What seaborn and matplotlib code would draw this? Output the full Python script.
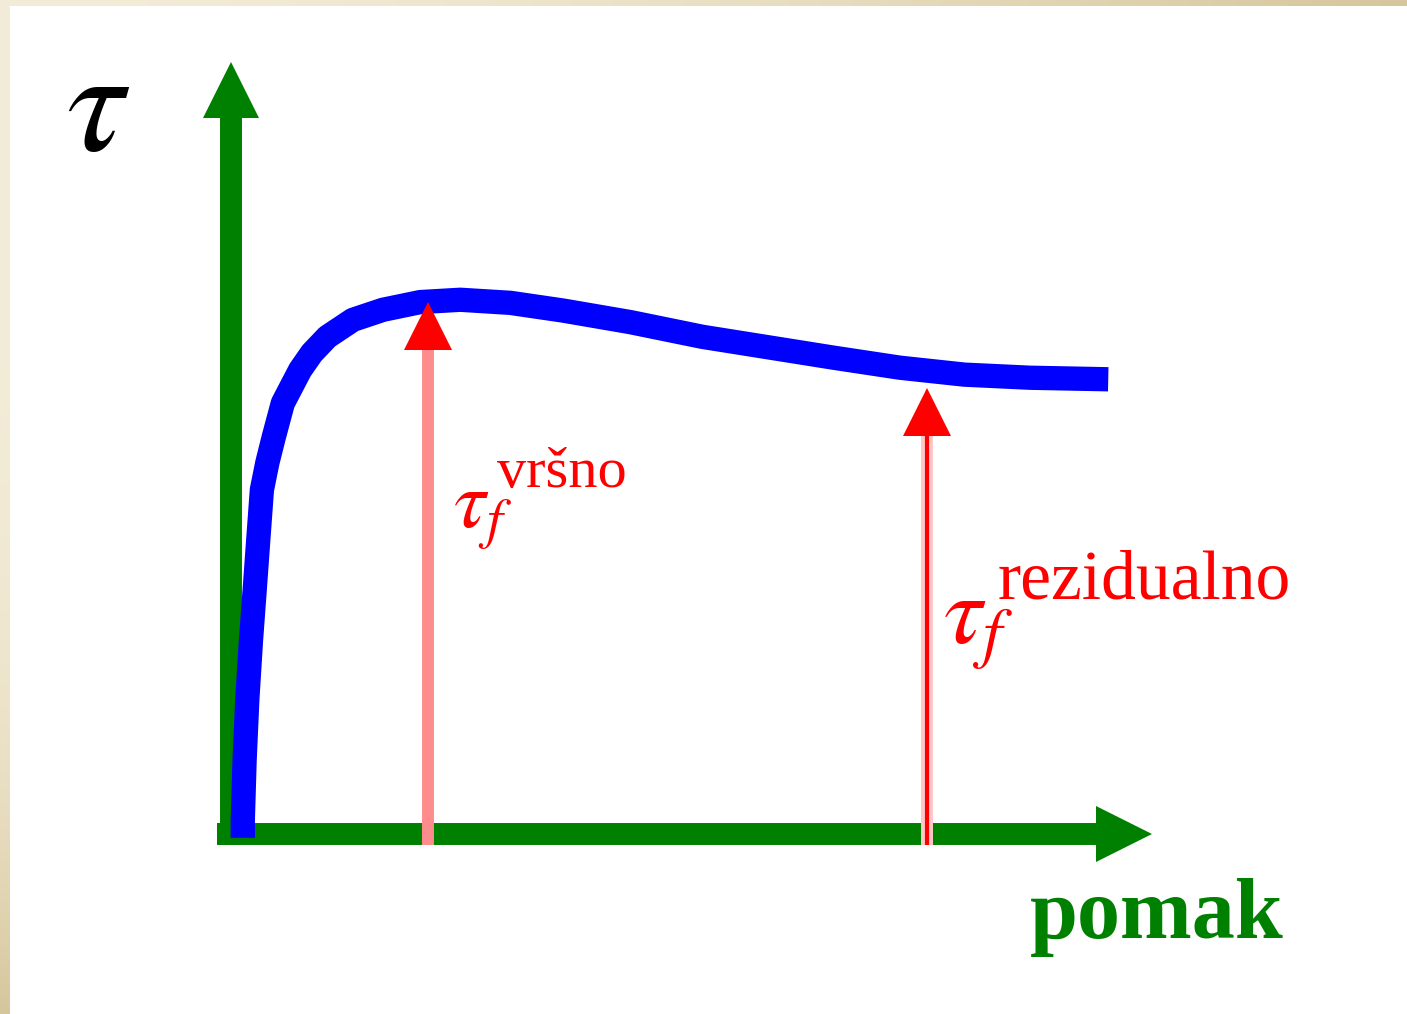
import numpy as np
import matplotlib
matplotlib.use("Agg")
import matplotlib.pyplot as plt
import seaborn as sns
from matplotlib.patches import Rectangle
from matplotlib.transforms import ScaledTranslation

# Shear stress vs. displacement (arbitrary units)
pomak = [1.3, 1.3, 1.5, 1.8, 2.2, 2.6, 3.0, 3.4, 4.0, 4.7, 5.7, 7.6, 8.9,
         10.6, 13.4, 16.7, 20.8, 25.2, 30.7, 36.5, 43.9, 51.8, 66.2, 73.5,
         80.6, 87.8, 96.4]
tau = [-0.5, 1.8, 9.6, 17.5, 25.1, 31.5, 38.1, 44.6, 48.1, 51.4, 55.8, 60.1,
       62.3, 64.4, 66.6, 67.9, 68.9, 69.2, 68.8, 67.8, 66.3, 64.4, 61.7,
       60.4, 59.5, 59.1, 58.9]

# Peak and residual strength markers
strength_x = [21.6, 76.5]
strength_tau = [68.9, 57.8]
strength_labels = ["vršno", "rezidualno"]

# Axis arrow extents
x_axis_end = 101.3
y_axis_end = 100.0

GREEN = "#008000"
BLUE = "#0000ff"
RED = "#ff0000"

sns.set_style("white")
plt.rcParams["mathtext.fontset"] = "stix"

W, H = 1407, 1014
fig = plt.figure(figsize=(W / 100, H / 100), dpi=100)

# Beige frame behind a white panel
bg = fig.add_axes([0, 0, 1, 1])
gx = np.linspace(0, 1, 300)[None, :]
gy = np.linspace(0, 1, 220)[:, None]
t = np.clip(np.maximum(gx ** 1.6, gy ** 4), 0, 1)
light = np.array([243, 236, 216]) / 255
dark = np.array([214, 198, 156]) / 255
img = light[None, None, :] + (dark - light)[None, None, :] * t[..., None]
bg.imshow(img, extent=(0, W, H, 0), aspect="auto", interpolation="bilinear")
bg.add_patch(Rectangle((10, 6), W - 10, H - 6, color="white", lw=0))
bg.set_xlim(0, W)
bg.set_ylim(H, 0)
bg.axis("off")

ax = fig.add_axes([0, 0, 1, 1])
ax.set_facecolor("none")
ax.set_xlim(-25.38, 129.23)
ax.set_ylim(-23.32, 108.03)
ax.axis("off")


def shifted(dx_pt=0.0, dy_pt=0.0):
    return ax.transData + ScaledTranslation(dx_pt / 72, dy_pt / 72, fig.dpi_scale_trans)


# Coordinate axes with arrowheads
ax.plot([0, 0], [-1.4, y_axis_end - 6], color=GREEN, lw=15.8,
        solid_capstyle="butt", zorder=2)
ax.plot([-1.5, x_axis_end - 5], [0, 0], color=GREEN, lw=15.8,
        solid_capstyle="butt", zorder=2)
ax.plot([0], [y_axis_end], marker="^", ms=40, mew=0, color=GREEN,
        transform=shifted(dy_pt=-20), zorder=2)
ax.plot([x_axis_end], [0], marker=">", ms=41, mew=0, color=GREEN,
        transform=shifted(dx_pt=-20.5), zorder=2)

# Stress-displacement curve
sns.lineplot(x=pomak, y=tau, ax=ax, sort=False, estimator=None, color=BLUE,
             lw=17.5, zorder=3)
curve = ax.get_lines()[-1]
curve.set_solid_capstyle("butt")
curve.set_solid_joinstyle("round")

# Strength arrows
ax.plot([strength_x[0]] * 2, [-1.4, strength_tau[0] - 4], color="#ff8c8c",
        lw=8.6, solid_capstyle="butt", zorder=4)
ax.plot([strength_x[1]] * 2, [-1.4, strength_tau[1] - 4], color="#ffc8c8",
        lw=8.6, solid_capstyle="butt", zorder=4)
ax.plot([strength_x[1]] * 2, [-1.4, strength_tau[1] - 4], color=RED,
        lw=3.0, solid_capstyle="butt", zorder=4)
for sx, st in zip(strength_x, strength_tau):
    ax.plot([sx], [st], marker="^", ms=35, mew=0, color=RED,
            transform=shifted(dy_pt=-17.5), zorder=5)

# Labels
ax.text(-14.6, 88.6, r"$\tau$", fontsize=105, color="black",
        ha="center", va="baseline")
ax.text(87.8, -13.5, "pomak", fontsize=62, color=GREEN, fontweight="bold",
        family="Liberation Serif", ha="left", va="baseline")

ax.text(24.4, 39.8, r"$\tau_f$", fontsize=58, color=RED, ha="left", va="baseline")
ax.text(29.2, 44.9, strength_labels[0], fontsize=42, color=RED,
        family="Liberation Serif", ha="left", va="baseline")
ax.text(78.2, 24.7, r"$\tau_f$", fontsize=70, color=RED, ha="left", va="baseline")
ax.text(84.2, 30.5, strength_labels[1], fontsize=50, color=RED,
        family="Liberation Serif", ha="left", va="baseline")

fig.savefig("out.png", dpi=100)
